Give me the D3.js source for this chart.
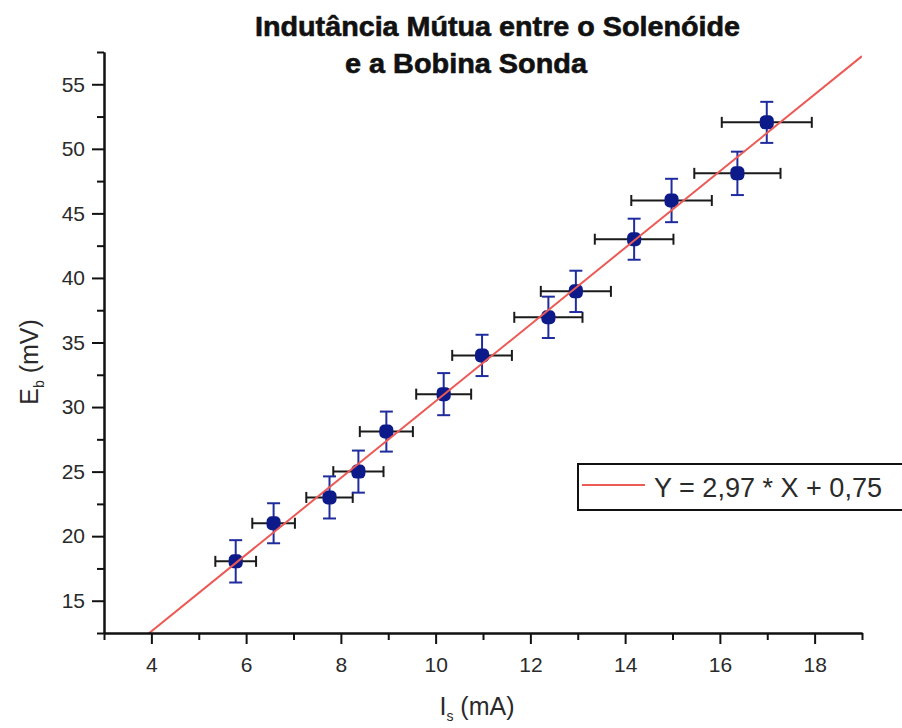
<!DOCTYPE html>
<html>
<head>
<meta charset="utf-8">
<script src="https://cdn.jsdelivr.net/npm/d3@7"></script>
<style>
  html, body { margin: 0; padding: 0; background: #fff; }
  svg { display: block; }
</style>
</head>
<body>
<svg id="chart" width="902" height="728"></svg>
<script>
const current = [5.78, 6.58, 7.76, 8.37, 8.96, 10.17, 10.98, 12.38, 12.96, 14.19, 14.98, 16.37, 16.99];
const voltage = [18.05, 21.0, 23.0, 25.0, 28.1, 31.0, 34.0, 36.95, 38.96, 43.0, 46.0, 48.1, 52.05];
const currentErr = [0.43, 0.45, 0.49, 0.53, 0.56, 0.58, 0.63, 0.72, 0.74, 0.83, 0.85, 0.91, 0.95];
const voltageErr = [1.64, 1.55, 1.63, 1.63, 1.55, 1.63, 1.6, 1.6, 1.6, 1.59, 1.68, 1.68, 1.59];

// Linear fit shown in the legend
const fitSlope = 2.97;
const fitIntercept = 0.75;
const fitLabel = 'Y = 2,97 * X + 0,75';

// Tick values
const xMajor = [4, 6, 8, 10, 12, 14, 16, 18];
const xMinor = [3, 5, 7, 9, 11, 13, 15, 17, 19];
const yMajor = [15, 20, 25, 30, 35, 40, 45, 50, 55];
const yMinor = [12.5, 17.5, 22.5, 27.5, 32.5, 37.5, 42.5, 47.5, 52.5, 57.5];

const titleLines = ['Indutância Mútua entre o Solenóide', 'e a Bobina Sonda'];

const margin = { top: 52, right: 40, bottom: 95, left: 104 };
const width = 862 - margin.left;
const height = 633 - margin.top;

const svg = d3.select('#chart');
const font = "'Liberation Sans', Arial, Helvetica, sans-serif";

const x = d3.scaleLinear().domain([3, 19]).range([0, width]);
const y = d3.scaleLinear().domain([12.5, 57.5]).range([height, 0]);

const g = svg.append('g').attr('transform', `translate(${margin.left},${margin.top})`);

// clip for the fit line
svg.append('defs').append('clipPath').attr('id', 'plotClip')
  .append('rect').attr('width', width).attr('height', height);

const points = current.map((c, i) => ({
  x: c, y: voltage[i], ex: currentErr[i], ey: voltageErr[i],
}));

// x error bars (black)
const xe = g.append('g').attr('stroke', '#1a1a1a').attr('stroke-width', 2).attr('fill', 'none');
points.forEach((d) => {
  const cy = y(d.y);
  xe.append('line').attr('x1', x(d.x - d.ex)).attr('x2', x(d.x + d.ex)).attr('y1', cy).attr('y2', cy);
  xe.append('line').attr('x1', x(d.x - d.ex)).attr('x2', x(d.x - d.ex)).attr('y1', cy - 5.5).attr('y2', cy + 5.5);
  xe.append('line').attr('x1', x(d.x + d.ex)).attr('x2', x(d.x + d.ex)).attr('y1', cy - 5.5).attr('y2', cy + 5.5);
});

// y error bars (blue)
const ye = g.append('g').attr('stroke', '#1f2c9e').attr('stroke-width', 2).attr('fill', 'none');
points.forEach((d) => {
  const cx = x(d.x);
  ye.append('line').attr('x1', cx).attr('x2', cx).attr('y1', y(d.y - d.ey)).attr('y2', y(d.y + d.ey));
  ye.append('line').attr('x1', cx - 6.5).attr('x2', cx + 6.5).attr('y1', y(d.y - d.ey)).attr('y2', y(d.y - d.ey));
  ye.append('line').attr('x1', cx - 6.5).attr('x2', cx + 6.5).attr('y1', y(d.y + d.ey)).attr('y2', y(d.y + d.ey));
});

// markers
g.selectAll('.pt')
  .data(points)
  .enter()
  .append('rect')
  .attr('class', 'pt')
  .attr('x', (d) => x(d.x) - 7)
  .attr('y', (d) => y(d.y) - 7)
  .attr('width', 14)
  .attr('height', 14)
  .attr('rx', 5)
  .attr('fill', '#0c1a8a');

// fit line
const fitX = x.domain();
g.append('line')
  .attr('clip-path', 'url(#plotClip)')
  .attr('x1', x(fitX[0]))
  .attr('y1', y(fitSlope * fitX[0] + fitIntercept))
  .attr('x2', x(fitX[1]))
  .attr('y2', y(fitSlope * fitX[1] + fitIntercept))
  .attr('stroke', '#ec5a55')
  .attr('stroke-width', 2);

// axes
function styleAxis(sel) {
  sel.select('.domain').attr('stroke', '#111').attr('stroke-width', 2);
  sel.selectAll('.tick line').attr('stroke', '#111').attr('stroke-width', 2);
  sel.selectAll('.tick text')
    .attr('fill', '#2a2a2a')
    .style('font-family', font)
    .style('font-size', '21px');
}

g.append('g')
  .attr('transform', `translate(0,${height})`)
  .call(d3.axisBottom(x).tickValues(xMinor).tickSize(7).tickSizeOuter(0).tickFormat(''))
  .call(styleAxis);
g.append('g')
  .attr('transform', `translate(0,${height})`)
  .call(d3.axisBottom(x).tickValues(xMajor).tickSize(11).tickPadding(13).tickSizeOuter(0))
  .call(styleAxis);

g.append('g')
  .call(d3.axisLeft(y).tickValues(yMinor).tickSize(7).tickSizeOuter(0).tickFormat(''))
  .call(styleAxis);
g.append('g')
  .call(d3.axisLeft(y).tickValues(yMajor).tickSize(12).tickPadding(7).tickSizeOuter(0))
  .call(styleAxis);

// axis titles
const yTitle = svg.append('text')
  .attr('transform', 'translate(38,362) rotate(-90)')
  .attr('text-anchor', 'middle')
  .attr('fill', '#2a2a2a')
  .style('font-family', font)
  .style('font-size', '25px');
yTitle.append('tspan').text('E');
yTitle.append('tspan').attr('dy', 6).style('font-size', '14px').text('b');
yTitle.append('tspan').attr('dy', -6).text(' (mV)');

const xTitle = svg.append('text')
  .attr('x', 477)
  .attr('y', 715)
  .attr('text-anchor', 'middle')
  .attr('fill', '#2a2a2a')
  .style('font-family', font)
  .style('font-size', '25px');
xTitle.append('tspan').text('I');
xTitle.append('tspan').attr('dy', 6).style('font-size', '14px').text('s');
xTitle.append('tspan').attr('dy', -6).text(' (mA)');

// title
svg.append('text')
  .attr('x', 255).attr('y', 36)
  .attr('textLength', 485).attr('lengthAdjust', 'spacingAndGlyphs')
  .attr('fill', '#111').attr('stroke', '#111').attr('stroke-width', 0.6)
  .style('font-family', font).style('font-weight', 'bold').style('font-size', '27px')
  .text(titleLines[0]);
svg.append('text')
  .attr('x', 345).attr('y', 73)
  .attr('textLength', 242).attr('lengthAdjust', 'spacingAndGlyphs')
  .attr('fill', '#111').attr('stroke', '#111').attr('stroke-width', 0.6)
  .style('font-family', font).style('font-weight', 'bold').style('font-size', '27px')
  .text(titleLines[1]);

// legend (box runs off the right edge)
const legend = svg.append('g');
legend.append('rect')
  .attr('x', 578).attr('y', 464)
  .attr('width', 340).attr('height', 46)
  .attr('fill', '#fff').attr('stroke', '#111').attr('stroke-width', 2);
legend.append('line')
  .attr('x1', 582).attr('x2', 645).attr('y1', 485).attr('y2', 485)
  .attr('stroke', '#ec5a55').attr('stroke-width', 2);
legend.append('text')
  .attr('x', 654).attr('y', 497)
  .attr('textLength', 228).attr('lengthAdjust', 'spacingAndGlyphs')
  .attr('fill', '#2a2a2a')
  .style('font-family', font).style('font-size', '28px')
  .text(fitLabel);
</script>
</body>
</html>
